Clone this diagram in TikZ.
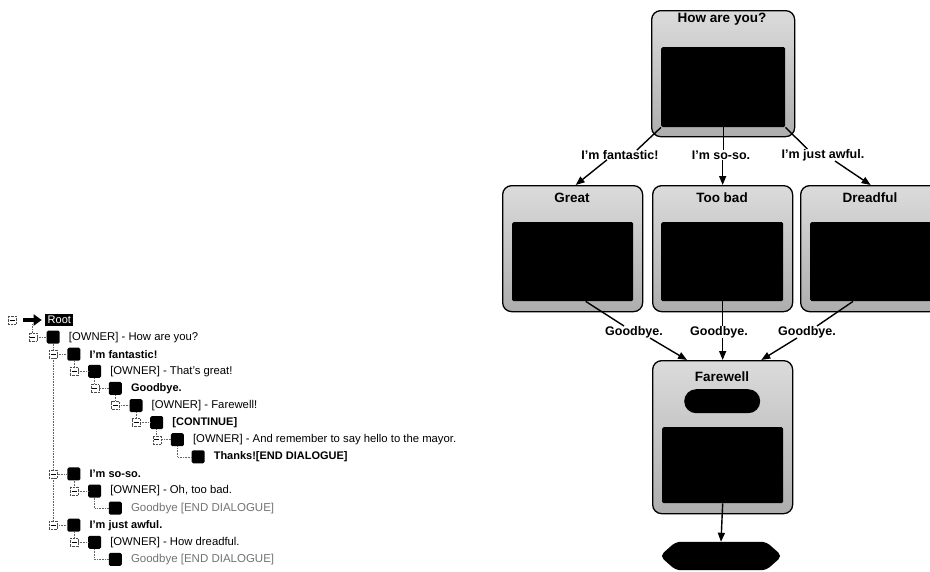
\documentclass[tikz,border=0pt]{standalone}
\usepackage{fontspec}
\setmainfont{Liberation Sans}
\usetikzlibrary{arrows.meta,calc}
\newcommand\trrow[5]{%
  \node[sqr] (sq#1) at ({32.5+20.7*#2},{320+17.1*#1}) {};
  \node[#4] (tx#1) at ({48+20.7*#2},{320+17.1*#1}) {#5};
}
\newcommand\tricon[2]{\node[icn] (ic#1) at ({12+20.7*#2},{320+17.1*#1}) {};}
\begin{document}
\begin{tikzpicture}[x=1pt,y=-1pt,
  box/.style={draw=black,line width=1.3pt,rounded corners=9pt,top color=black!14,bottom color=black!32,minimum width=140pt,minimum height=126pt,anchor=north west,inner sep=0pt},
  inbox/.style={fill=black,rounded corners=1.5pt,anchor=north west,inner sep=0pt},
  ttl/.style={font=\fontsize{13.5}{16}\selectfont\bfseries,anchor=base,inner sep=0pt},
  elbl/.style={font=\fontsize{12.5}{15}\selectfont\bfseries,inner sep=0pt},
  conn/.style={line width=1.4pt},
  arr/.style={conn,-{Triangle[length=9pt,width=7pt]}},
  sqr/.style={fill=black,minimum size=13pt,inner sep=0pt,rounded corners=1.5pt},
  tt/.style={anchor=west,inner sep=0pt,font=\fontsize{11.3}{13}\selectfont},
  tb/.style={tt,font=\fontsize{11}{13}\selectfont\bfseries},
  tg/.style={tt,text=black!55,font=\fontsize{11.5}{13}\selectfont},
  icn/.style={draw=black!70,densely dotted,fill=white,minimum width=8pt,minimum height=8pt,inner sep=0pt,
    path picture={\draw[solid,black,line width=.7pt] ([xshift=1.5pt]path picture bounding box.west) -- ([xshift=-1.5pt]path picture bounding box.east);}},
  tline/.style={black!60,densely dotted,line width=.6pt}
]
\useasboundingbox (0,0) rectangle (930,571);
\clip (0,0) rectangle (930,571);

% ---------- flow chart ----------
\node[box,minimum width=143pt] (top) at (651,10) {};
\node[inbox,minimum width=124pt,minimum height=80pt] (topin) at (661,47) {};
\node[ttl] (topt) at (722,22) {How are you?};

\node[box] (great) at (502,185) {};
\node[inbox,minimum width=121pt,minimum height=79pt] (greatin) at (512,222) {};
\node[ttl] (greatt) at (572,202) {Great};

\node[box] (toobad) at (652,185) {};
\node[inbox,minimum width=122pt,minimum height=79pt] (toobadin) at (661,222) {};
\node[ttl] (toobadt) at (722,202) {Too bad};

\node[box] (dread) at (800,185) {};
\node[inbox,minimum width=121pt,minimum height=79pt] (dreadin) at (810,222) {};
\node[ttl] (dreadt) at (870,202) {Dreadful};

\node[box,minimum height=153pt] (farewell) at (652,360) {};
\node[inbox,rounded corners=12pt,minimum width=76pt,minimum height=24pt] (pill) at (684,389) {};
\node[inbox,minimum width=121pt,minimum height=76pt] (farewellin) at (662,427) {};
\node[ttl] (farewellt) at (722,381) {Farewell};

\node[minimum width=122pt,minimum height=28pt,inner sep=0pt] (endn) at (721,556) {};
\fill[rounded corners=5pt] (endn.west) -- ($(endn.north west)+(16,0)$) -- ($(endn.north east)+(-16,0)$)
  -- (endn.east) -- ($(endn.south east)+(-16,0)$) -- ($(endn.south west)+(16,0)$) -- cycle;

\node[elbl] (e1) at (620,155) {I'm fantastic!};
\node[elbl] (e2) at (721,155) {I'm so-so.};
\node[elbl] (e3) at (823,155) {I'm just awful.};
\node[elbl] (g1) at (634,332) {Goodbye.};
\node[elbl] (g2) at (719,332) {Goodbye.};
\node[elbl] (g3) at (807,332) {Goodbye.};

\draw[conn] (topin.south west) -- ($(e1.north east)+(-22,0)$);
\draw[arr] ($(e1.south)+(-13,0)$) -- ($(great.north)+(3,0)$);
\draw[conn] (topin.south) -- (topin.south |- e2.north);
\draw[arr] (e2.south -| toobad.north) -- (toobad.north);
\draw[conn] (topin.south east) -- ($(e3.north west)+(26,0)$);
\draw[arr] ($(e3.south)+(12,0)$) -- (dread.north);

\draw[conn] ($(greatin.south)+(13,0)$) -- ($(g1.north west)+(19,0)$);
\draw[arr] ($(g1.south)+(16,0)$) -- ($(farewell.north west)+(35,0)$);
\draw[conn] (toobadin.south) -- (toobadin.south |- g2.north);
\draw[arr] (g2.south -| farewell.north) -- (farewell.north);
\draw[conn] ($(dreadin.south west)+(43,0)$) -- ($(g3.north east)+(-19,0)$);
\draw[arr] ($(g3.south west)+(19,0)$) -- ($(farewell.north east)+(-32,0)$);
\draw[arr] (farewellin.south) -- (endn.north);

% ---------- tree ----------
\node[minimum width=18pt,minimum height=8pt,inner sep=0pt] (rimg) at (32.5,320) {};
\draw[line width=3.5pt,-{Triangle[length=8pt,width=11pt]}] (rimg.west) -- (rimg.east);
\node[anchor=west,fill=black,text=white,inner xsep=2.5pt,inner ysep=2pt,font=\fontsize{11}{13}\selectfont] (root) at (45,320) {Root};

\trrow{1}{1}{1}{tt}{[OWNER] - How are you?}
\trrow{2}{2}{1}{tb}{I'm fantastic!}
\trrow{3}{3}{1}{tt}{[OWNER] - That's great!}
\trrow{4}{4}{1}{tb}{Goodbye.}
\trrow{5}{5}{1}{tt}{[OWNER] - Farewell!}
\trrow{6}{6}{1}{tb}{[CONTINUE]}
\trrow{7}{7}{1}{tt}{[OWNER] - And remember to say hello to the mayor.}
\trrow{8}{8}{0}{tb}{Thanks![END DIALOGUE]}
\trrow{9}{2}{1}{tb}{I'm so-so.}
\trrow{10}{3}{1}{tt}{[OWNER] - Oh, too bad.}
\trrow{11}{4}{0}{tg}{Goodbye [END DIALOGUE]}
\trrow{12}{2}{1}{tb}{I'm just awful.}
\trrow{13}{3}{1}{tt}{[OWNER] - How dreadful.}
\trrow{14}{4}{0}{tg}{Goodbye [END DIALOGUE]}

\draw[tline] (rimg.south) |- (sq1.west);
\draw[tline] (sq1.south) |- (sq2.west);
\draw[tline] (sq1.south) |- (sq9.west);
\draw[tline] (sq1.south) |- (sq12.west);
\draw[tline] (sq2.south) |- (sq3.west);
\draw[tline] (sq3.south) |- (sq4.west);
\draw[tline] (sq4.south) |- (sq5.west);
\draw[tline] (sq5.south) |- (sq6.west);
\draw[tline] (sq6.south) |- (sq7.west);
\draw[tline] (sq7.south) |- (sq8.west);
\draw[tline] (sq9.south) |- (sq10.west);
\draw[tline] (sq10.south) |- (sq11.west);
\draw[tline] (sq12.south) |- (sq13.west);
\draw[tline] (sq13.south) |- (sq14.west);

\tricon{0}{0}
\tricon{1}{1}
\tricon{2}{2}
\tricon{3}{3}
\tricon{4}{4}
\tricon{5}{5}
\tricon{6}{6}
\tricon{7}{7}
\tricon{9}{2}
\tricon{10}{3}
\tricon{12}{2}
\tricon{13}{3}
\end{tikzpicture}
\end{document}
